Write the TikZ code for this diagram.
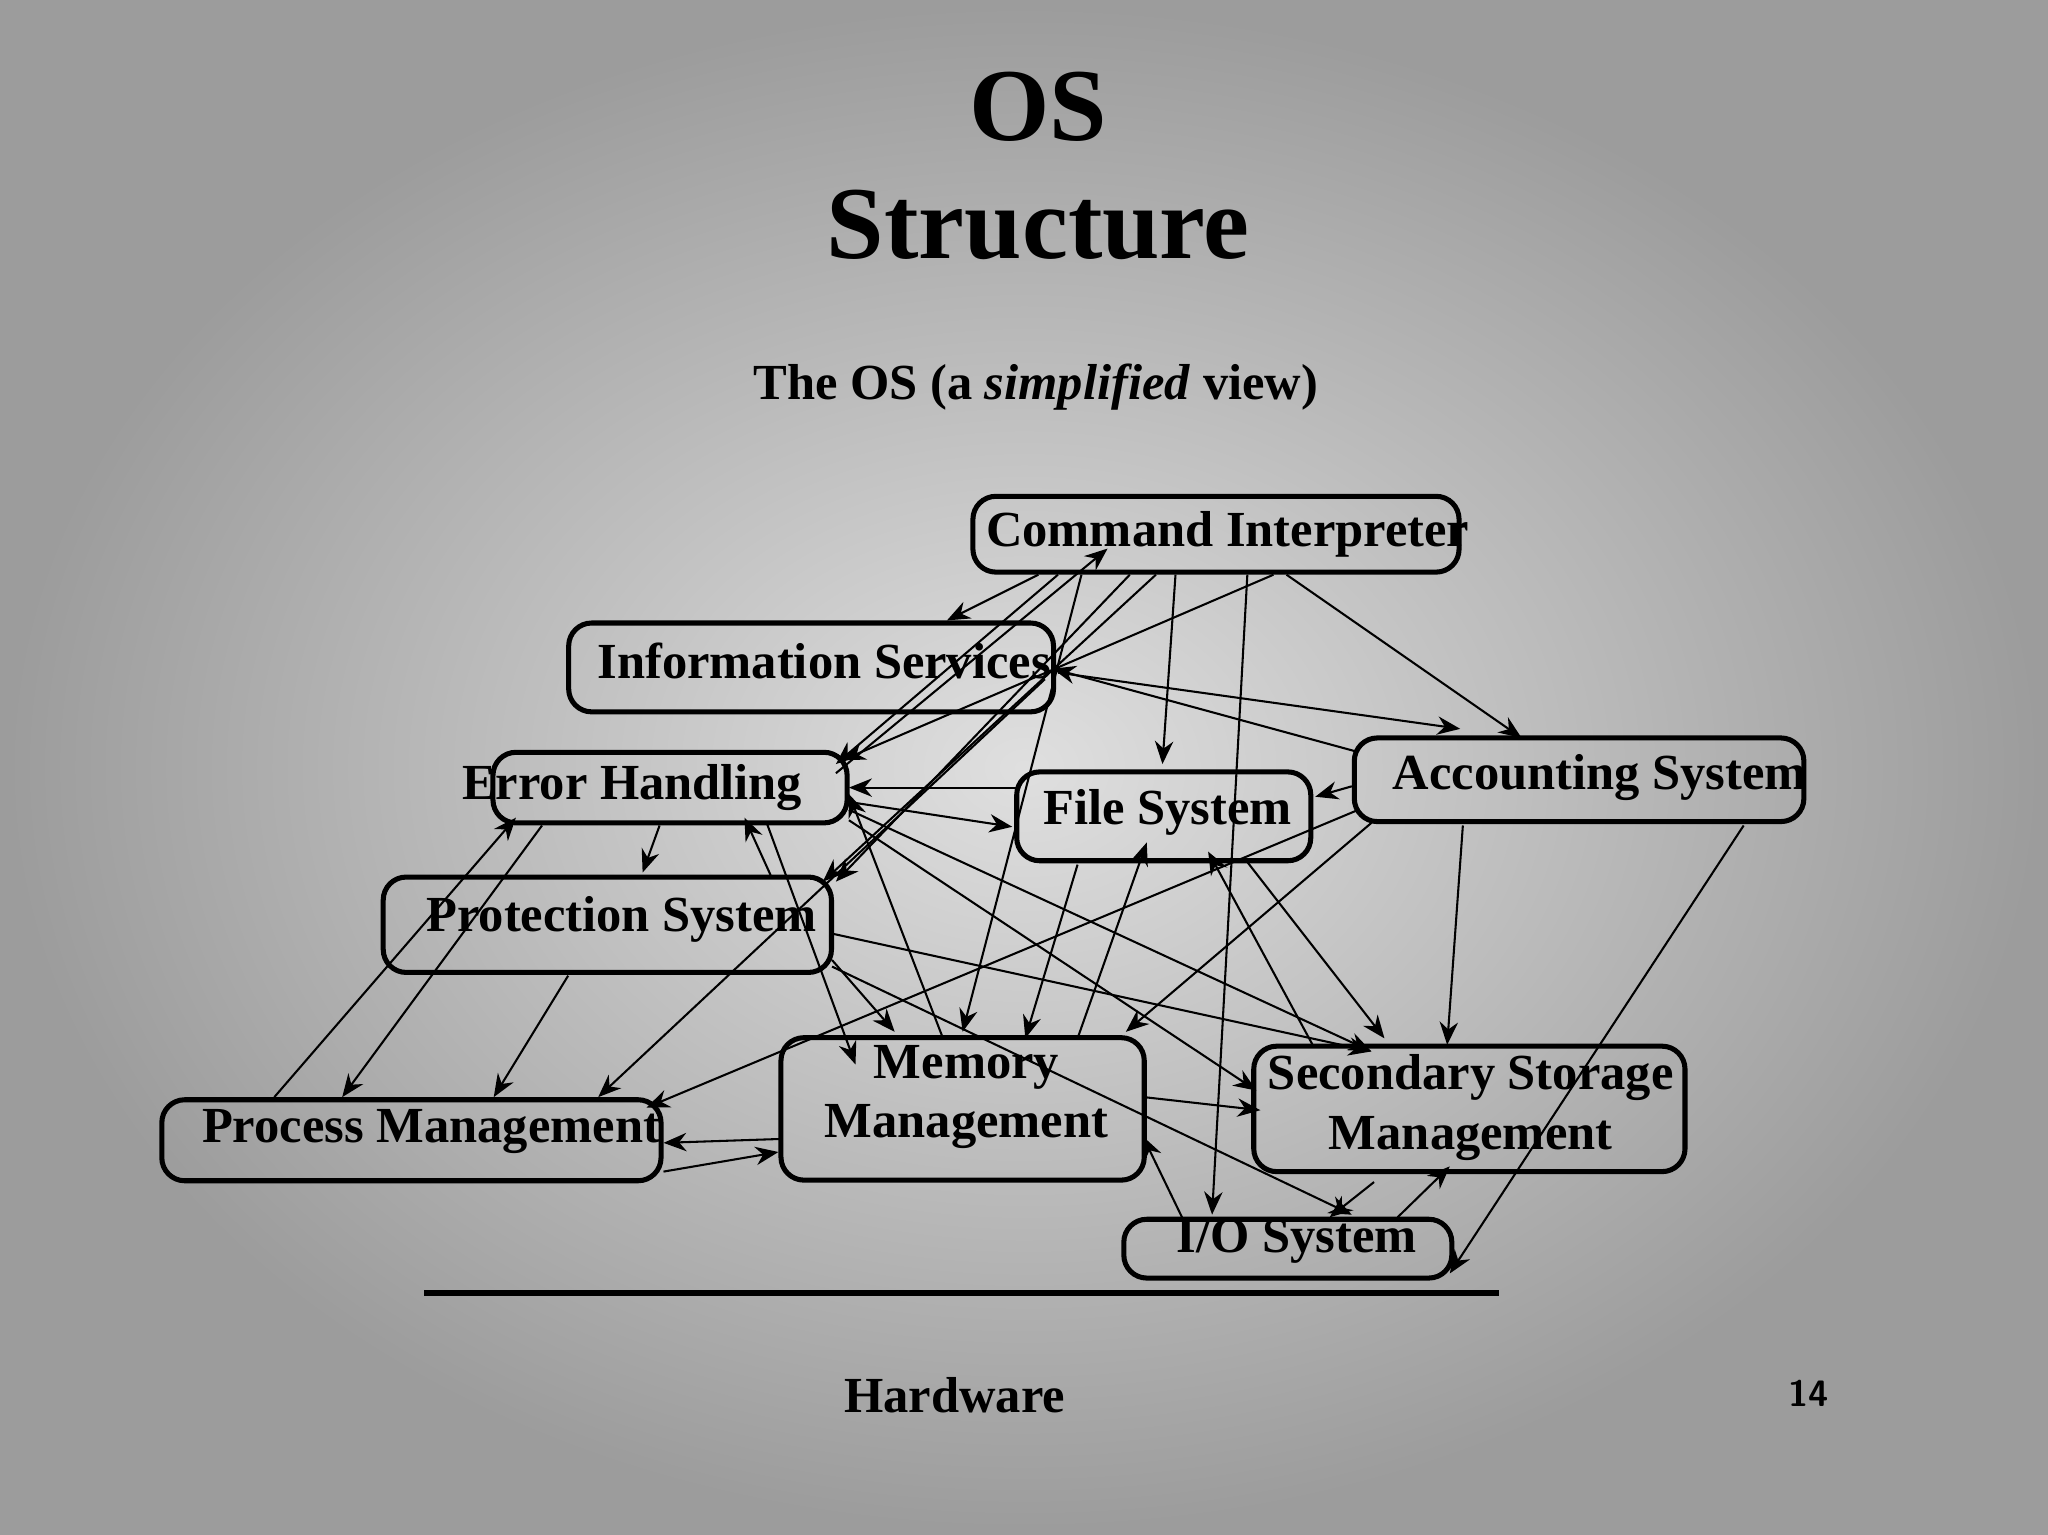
\documentclass[tikz,border=0pt]{standalone}
\usepackage{fontspec}
\setmainfont{Liberation Serif}
\usetikzlibrary{arrows.meta}
\begin{document}
\begin{tikzpicture}[x=0.01cm,y=-0.01cm,
  box/.style={draw=black,line width=1.1pt,rounded corners=5pt,inner sep=0pt},
  lbl/.style={font=\fontsize{11}{13}\selectfont\bfseries,align=center},
  a/.style={-{Stealth[length=5pt,width=4pt]},line width=0.45pt}]
\shade[inner color=gray!25,outer color=gray!78] (0,0) rectangle (1568,1175);
\useasboundingbox (0,0) rectangle (1568,1175);
\node (t1) at (795,82) {\fontsize{22.5}{26}\selectfont\bfseries OS};
\node (t2) at (795,172) {\fontsize{22.5}{26}\selectfont\bfseries Structure};
\node (sub) at (793,296) {\fontsize{11}{13}\selectfont\bfseries The OS (a \textit{simplified} view)};
\node[box,minimum width=3.72cm,minimum height=0.58cm] (cmd) at (931,409) {};
\node[box,minimum width=3.71cm,minimum height=0.68cm] (info) at (621,511) {};
\node[box,minimum width=2.71cm,minimum height=0.54cm] (err) at (513,603) {};
\node[box,minimum width=3.43cm,minimum height=0.73cm] (prot) at (465,708) {};
\node[box,minimum width=2.25cm,minimum height=0.68cm] (fs) at (891,625) {};
\node[box,minimum width=3.44cm,minimum height=0.64cm] (acct) at (1209,597) {};
\node[box,minimum width=3.82cm,minimum height=0.62cm] (proc) at (315,873) {};
\node[box,minimum width=2.78cm,minimum height=1.09cm] (mem) at (737,849) {};
\node[box,minimum width=3.30cm,minimum height=0.96cm] (ssm) at (1125,849) {};
\node[box,minimum width=2.51cm,minimum height=0.45cm] (io) at (986,956) {};
\node[lbl] (lcmd) at (940,409) {Command Interpreter};
\node[lbl] (linfo) at (631,506) {Information Services};
\node[lbl] (lerr) at (484,603) {Error Handling};
\node[lbl] (lprot) at (476,704) {Protection System};
\node[lbl] (lfs) at (894,622) {File System};
\node[lbl] (lacct) at (1225,595) {Accounting System};
\node[lbl] (lproc) at (330,866) {Process Management};
\node[lbl] (lmem) at (740,840) {Memory\\Management};
\node[lbl] (lssm) at (1126,848) {Secondary Storage\\Management};
\node[lbl] (lio) at (993,950) {I/O System};
\draw[line width=1.2pt] (325,990) coordinate (h1) -- (1148,990) coordinate (h2);
\node[lbl] (hw) at (731,1068) {Hardware};
\node (pg) at (1385,1067) {\fontsize{8}{10}\selectfont\bfseries\sffamily 14};
% connectors
\draw[a] (795,440) -- (725,475);
\draw[a] (810,440) -- (640,585);
\draw[a] (640,592) -- (848,420);
\draw[a] (865,440) -- (640,675);
\draw[a] (885,440) -- (630,675);
\draw[a] (975,440) -- (645,582);
\draw[a] (828,440) -- (737,790);
\draw[a] (900,440) -- (890,585);
\draw[a] (955,440) -- (928,930);
\draw[a] (985,440) -- (1165,565);
\draw[a] (810,515) -- (1118,558);
\draw[a] (1037,575) -- (806,512);
\draw[a] (778,603) -- (650,603);
\draw[a] (650,614) -- (775,633);
\draw[a] (1035,602) -- (1007,610);
\draw[a] (505,632) -- (492,668);
\draw[a] (415,632) -- (262,840);
\draw[a] (210,840) -- (395,626);
\draw[a] (587,630) -- (655,815);
\draw[a] (590,670) -- (570,626);
\draw[a] (435,747) -- (378,840);
\draw[a] (638,715) -- (1050,805);
\draw[a] (637,735) -- (685,790);
\draw[a] (637,740) -- (1035,930);
\draw[a] (650,620) -- (1050,805);
\draw[a] (650,628) -- (962,835);
\draw[a] (722,795) -- (650,608);
\draw[a] (800,520) -- (458,840);
\draw[a] (1050,630) -- (862,790);
\draw[a] (1040,620) -- (495,848);
\draw[a] (1120,632) -- (1108,800);
\draw[a] (1335,632) -- (1110,975);
\draw[a] (825,662) -- (785,795);
\draw[a] (825,795) -- (878,645);
\draw[a] (1005,800) -- (925,652);
\draw[a] (955,660) -- (1060,795);
\draw[a] (598,872) -- (508,875);
\draw[a] (508,897) -- (596,882);
\draw[a] (876,840) -- (965,850);
\draw[a] (905,932) -- (875,870);
\draw[a] (1052,905) -- (1018,932);
\draw[a] (1070,932) -- (1110,893);
\end{tikzpicture}
\end{document}
